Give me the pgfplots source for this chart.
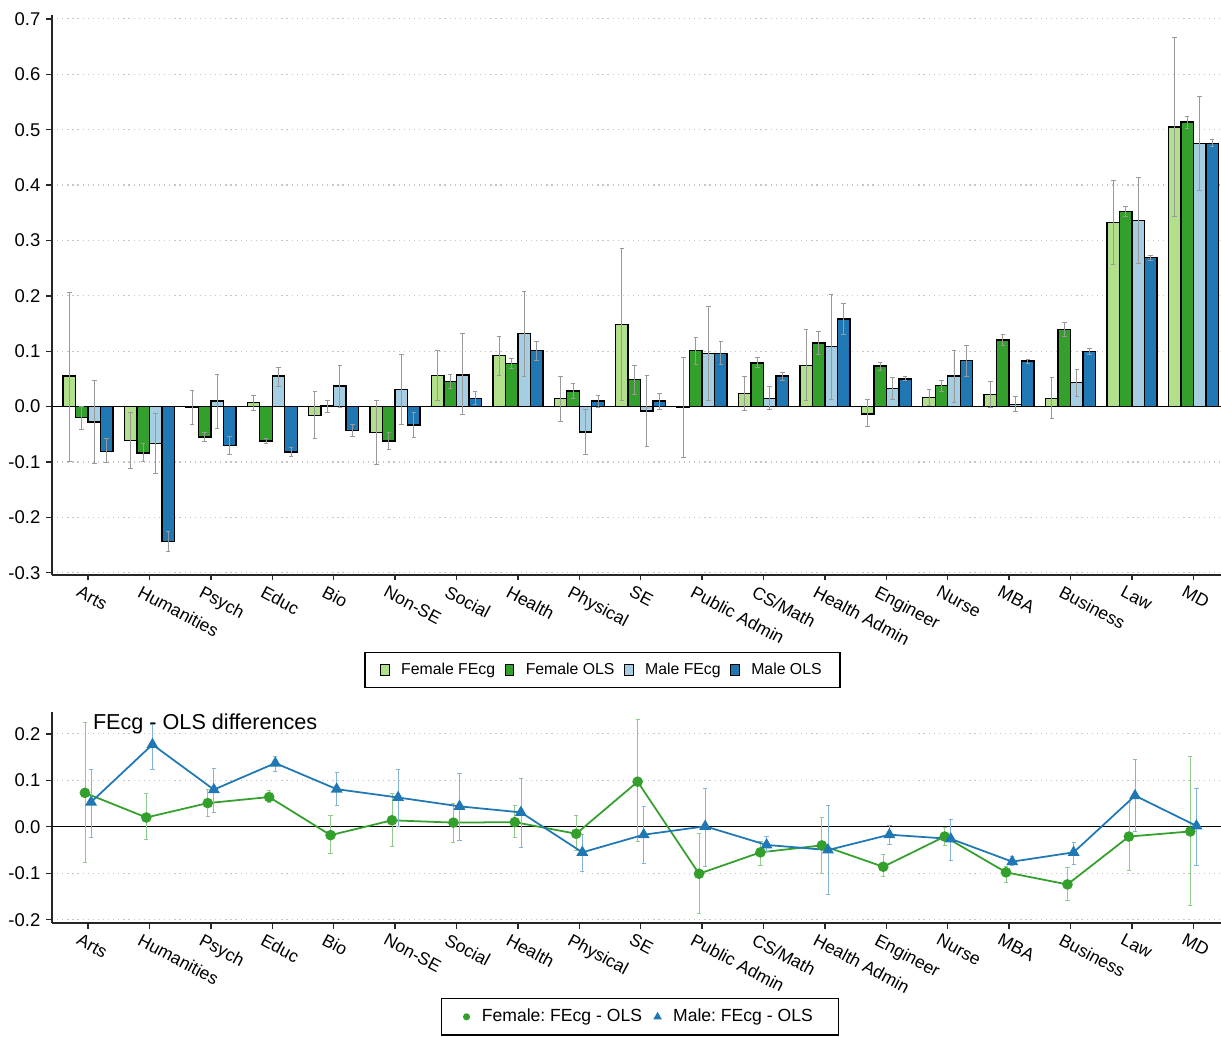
\documentclass[border=0pt]{standalone}
\usepackage{pgfplots}
\pgfplotsset{compat=1.18}
\usepackage{pgfplotstable}
\usepackage{fontspec}
\setmainfont{Liberation Sans}
\frenchspacing
\definecolor{lgreen}{HTML}{B2DF8A}
\definecolor{dgreen}{HTML}{33A02C}
\definecolor{lblue}{HTML}{A6CEE3}
\definecolor{dblue}{HTML}{1F78B4}

% Female FEcg
\pgfplotstableread{
x y lo hi
0 0.055 -0.099 0.207
1 -0.061 -0.112 -0.010
2 -0.002 -0.032 0.030
3 0.007 -0.007 0.020
4 -0.016 -0.057 0.027
5 -0.047 -0.105 0.012
6 0.056 0.012 0.101
7 0.092 0.057 0.126
8 0.015 -0.026 0.055
9 0.148 0.012 0.285
10 -0.002 -0.091 0.089
11 0.024 -0.007 0.055
12 0.074 0.011 0.139
13 -0.013 -0.036 0.013
14 0.016 0.002 0.031
15 0.022 -0.001 0.046
16 0.015 -0.022 0.052
17 0.332 0.257 0.408
18 0.505 0.344 0.666
}\ff
% Female OLS
\pgfplotstableread{
x y lo hi
0 -0.020 -0.041 0.001
1 -0.084 -0.099 -0.067
2 -0.055 -0.062 -0.046
3 -0.062 -0.066 -0.058
4 0.001 -0.010 0.012
5 -0.062 -0.078 -0.047
6 0.045 0.032 0.058
7 0.078 0.069 0.087
8 0.028 0.015 0.042
9 0.049 0.022 0.074
10 0.101 0.076 0.125
11 0.079 0.070 0.089
12 0.115 0.095 0.135
13 0.073 0.065 0.080
14 0.038 0.027 0.048
15 0.120 0.110 0.130
16 0.139 0.126 0.152
17 0.352 0.344 0.361
18 0.514 0.503 0.524
}\fo
% Male FEcg
\pgfplotstableread{
x y lo hi
0 -0.028 -0.102 0.047
1 -0.067 -0.121 -0.012
2 0.010 -0.040 0.058
3 0.055 0.037 0.071
4 0.037 -0.001 0.075
5 0.031 -0.033 0.094
6 0.057 -0.015 0.132
7 0.132 0.055 0.208
8 -0.046 -0.087 -0.006
9 -0.008 -0.072 0.056
10 0.096 0.012 0.181
11 0.015 -0.005 0.036
12 0.108 0.013 0.203
13 0.033 0.013 0.053
14 0.055 0.008 0.101
15 0.004 -0.008 0.018
16 0.043 0.018 0.068
17 0.336 0.258 0.413
18 0.475 0.391 0.560
}\mf
% Male OLS
\pgfplotstableread{
x y lo hi
0 -0.081 -0.101 -0.058
1 -0.243 -0.261 -0.226
2 -0.070 -0.086 -0.054
3 -0.082 -0.090 -0.073
4 -0.043 -0.054 -0.033
5 -0.033 -0.055 -0.011
6 0.015 0.004 0.027
7 0.101 0.083 0.118
8 0.010 -0.002 0.021
9 0.010 -0.005 0.024
10 0.096 0.076 0.118
11 0.055 0.048 0.061
12 0.158 0.130 0.187
13 0.050 0.047 0.054
14 0.083 0.055 0.111
15 0.082 0.078 0.085
16 0.100 0.095 0.105
17 0.269 0.264 0.273
18 0.475 0.470 0.482
}\mo
% Female: FEcg - OLS
\pgfplotstableread{
x y lo hi
-0.05 0.073 -0.077 0.225
0.95 0.020 -0.027 0.071
1.95 0.051 0.022 0.080
2.95 0.064 0.053 0.078
3.95 -0.018 -0.058 0.025
4.95 0.014 -0.042 0.071
5.95 0.009 -0.034 0.051
6.95 0.010 -0.022 0.045
7.95 -0.015 -0.050 0.024
8.95 0.097 -0.032 0.231
9.95 -0.101 -0.186 -0.015
10.95 -0.055 -0.084 -0.032
11.95 -0.040 -0.101 0.021
12.95 -0.086 -0.107 -0.060
13.95 -0.021 -0.040 -0.002
14.95 -0.098 -0.119 -0.086
15.95 -0.124 -0.158 -0.088
16.95 -0.021 -0.094 0.052
17.95 -0.010 -0.170 0.152
}\fd
% Male: FEcg - OLS
\pgfplotstableread{
x y lo hi
0.05 0.053 -0.022 0.124
1.05 0.177 0.124 0.220
2.05 0.080 0.032 0.126
3.05 0.137 0.119 0.152
4.05 0.081 0.045 0.116
5.05 0.063 0.000 0.124
6.05 0.044 -0.029 0.114
7.05 0.031 -0.044 0.105
8.05 -0.055 -0.096 -0.016
9.05 -0.017 -0.078 0.044
10.05 0.001 -0.086 0.083
11.05 -0.039 -0.053 -0.021
12.05 -0.050 -0.146 0.046
13.05 -0.017 -0.037 0.002
14.05 -0.026 -0.072 0.015
15.05 -0.075 -0.084 -0.064
16.05 -0.055 -0.080 -0.033
17.05 0.067 -0.010 0.144
18.05 0.002 -0.083 0.083
}\md

\newcommand{\lblfont}{\fontsize{10.5}{12}\selectfont}
\newcommand{\xlblfont}{\fontsize{10}{12}\selectfont}

\pgfplotsset{
  panel/.style={
    scale only axis,
    width=233.8mm,
    xmin=-0.586, xmax=18.45,
    axis lines=left,
    axis line style={-, line width=0.8pt, black!85},
    xtick={0,...,18},
    xticklabels={Arts,Humanities,Psych,Educ,Bio,Non-SE,Social,Health,Physical,SE,Public Admin,CS/Math,Health Admin,Engineer,Nurse,MBA,Business,Law,MD},
    x tick label style={rotate=-28, anchor=north west, xshift=-2.0mm, yshift=-0.2mm, font=\xlblfont},
    y tick label style={font=\lblfont},
    tick align=outside,
    major tick length=1.1mm,
    tick style={line width=0.8pt, black!85},
    ymajorgrids,
    grid style={gray!45, line width=0.7pt, dash pattern=on 0.7pt off 2.2pt},
    clip=false,
  },
  barerr/.style={error bars/.cd, y dir=both, y explicit,
    error bar style={gray!80, line width=0.5pt},
    error mark options={rotate=90, mark size=1.3pt, gray!80, line width=0.5pt}},
  barleg/.style={legend image code/.code={\draw[##1, line width=0.6pt] (0mm,-1.1mm) rectangle (1.7mm,1.1mm);}},
}

\begin{document}
\begin{tikzpicture}
\path[use as bounding box] (0,0) rectangle (244.2mm,207.2mm);

% ---------- top panel ----------
\begin{axis}[panel,
  at={(10.4mm,92.2mm)}, anchor=south west,
  height=112mm,
  ymin=-0.304, ymax=0.707,
  ytick={-0.3,-0.2,-0.1,0,0.1,0.2,0.3,0.4,0.5,0.6,0.7},
  yticklabels={-0.3,-0.2,-0.1,0.0,0.1,0.2,0.3,0.4,0.5,0.6,0.7},
  ybar, bar width=0.2036,
  legend columns=4,
  legend style={at={(0.471,-0.170)}, anchor=center, draw=black, line width=0.8pt,
    font=\fontsize{9}{11}\selectfont, inner xsep=3mm, inner ysep=1.4mm,
    /tikz/every odd column/.append style={column sep=1.6mm},
    /tikz/every even column/.append style={column sep=1.2mm}},
]
\addplot[sharp plot, no marks, black, line width=0.8pt, forget plot] coordinates {(-0.586,0) (18.45,0)};
\addplot[draw=black, line width=0.8pt, fill=lgreen, bar shift=-0.3054, barleg, barerr]
  table[x=x, y=y, y error plus expr=\thisrow{hi}-\thisrow{y}, y error minus expr=\thisrow{y}-\thisrow{lo}] {\ff};
\addlegendentry{Female FEcg}
\addplot[draw=black, line width=0.8pt, fill=dgreen, bar shift=-0.1018, barleg, barerr]
  table[x=x, y=y, y error plus expr=\thisrow{hi}-\thisrow{y}, y error minus expr=\thisrow{y}-\thisrow{lo}] {\fo};
\addlegendentry{Female OLS}
\addplot[draw=black, line width=0.8pt, fill=lblue, bar shift=0.1018, barleg, barerr]
  table[x=x, y=y, y error plus expr=\thisrow{hi}-\thisrow{y}, y error minus expr=\thisrow{y}-\thisrow{lo}] {\mf};
\addlegendentry{Male FEcg}
\addplot[draw=black, line width=0.8pt, fill=dblue, bar shift=0.3054, barleg, barerr]
  table[x=x, y=y, y error plus expr=\thisrow{hi}-\thisrow{y}, y error minus expr=\thisrow{y}-\thisrow{lo}] {\mo};
\addlegendentry{Male OLS}
\end{axis}

% ---------- bottom panel ----------
\begin{axis}[panel,
  at={(10.4mm,22.6mm)}, anchor=south west,
  height=42.2mm,
  ymin=-0.207, ymax=0.247,
  ytick={-0.2,-0.1,0,0.1,0.2},
  yticklabels={-0.2,-0.1,0.0,0.1,0.2},
  legend columns=2,
  legend style={at={(0.503,-0.355)}, anchor=north, draw=black, line width=0.8pt,
    font=\fontsize{10}{12}\selectfont, inner xsep=4.4mm, inner ysep=1.4mm,
    /tikz/every odd column/.append style={column sep=1.8mm},
    /tikz/every even column/.append style={column sep=1.8mm}},
]
\addplot[black, line width=0.8pt, forget plot] coordinates {(-0.586,0) (18.45,0)};
\addplot[dgreen, line width=1.0pt, mark=*, mark size=2.5pt, forget plot,
  error bars/.cd, y dir=both, y explicit,
  error bar style={dgreen!55, line width=0.45pt},
  error mark options={rotate=90, mark size=1.2pt, dgreen!55, line width=0.45pt}]
  table[x=x, y=y, y error plus expr=\thisrow{hi}-\thisrow{y}, y error minus expr=\thisrow{y}-\thisrow{lo}] {\fd};
\addplot[dblue, line width=1.0pt, mark=triangle*, mark size=2.9pt, forget plot,
  error bars/.cd, y dir=both, y explicit,
  error bar style={dblue!55, line width=0.45pt},
  error mark options={rotate=90, mark size=1.2pt, dblue!55, line width=0.45pt}]
  table[x=x, y=y, y error plus expr=\thisrow{hi}-\thisrow{y}, y error minus expr=\thisrow{y}-\thisrow{lo}] {\md};
\addlegendimage{only marks, mark=*, mark size=1.6pt, dgreen}
\addlegendentry{Female: FEcg - OLS}
\addlegendimage{only marks, mark=triangle*, mark size=2.0pt, dblue}
\addlegendentry{Male: FEcg - OLS}
\node[anchor=base west, font=\fontsize{12.3}{14}\selectfont, inner sep=0pt] at (rel axis cs:0.0348,0.919) {FEcg - OLS differences};
\end{axis}
\end{tikzpicture}
\end{document}
